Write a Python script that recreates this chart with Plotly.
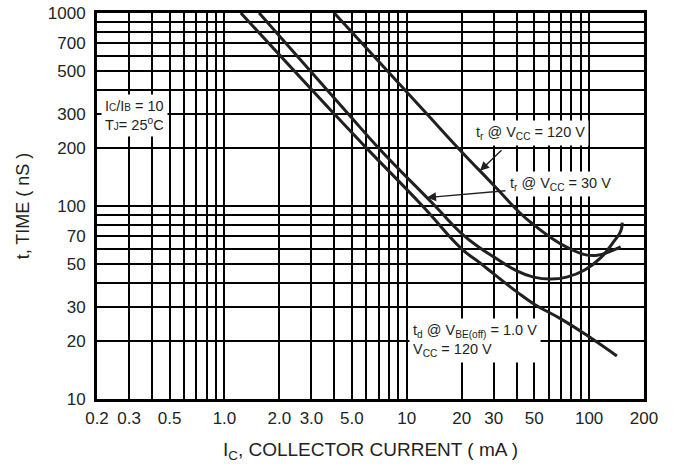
import numpy as np
import plotly.graph_objects as go

# ---- data (Ic in mA, t in ns) ----
td_ic = [1.23, 4.0, 6.0, 12.2, 20, 25, 30, 40, 50, 70, 100, 142]
td_t = [1000, 300, 200, 100, 60, 51, 44.5, 36, 31, 26, 21, 16.7]

tr30_ic = [1.55, 4.78, 7.0, 14.3, 20, 25, 30, 40.4, 49.6, 61.8, 75.3, 94.6, 116, 137, 149, 152]
tr30_t = [1000, 300, 200, 100, 72, 61, 54.5, 46, 42.8, 41.8, 42.8, 46.6, 54, 65.7, 74, 82]

tr120_ic = [4.0, 12.9, 19.1, 30, 41.8, 49.6, 61.8, 75.3, 94.6, 111, 131.5, 149]
tr120_t = [1000, 300, 200, 128, 92, 80, 68.5, 61.2, 56, 55.5, 58.4, 61.4]

x_tickvals = [0.2, 0.3, 0.5, 1, 2, 3, 5, 10, 20, 30, 50, 100, 200]
x_ticktext = ["0.2", "0.3", "0.5", "1.0", "2.0", "3.0", "5.0", "10", "20", "30", "50", "100", "200"]
x_minor = [0.4, 0.6, 0.7, 0.8, 0.9, 4, 6, 7, 8, 9, 40, 60, 70, 80, 90]
y_tickvals = [10, 20, 30, 50, 70, 100, 200, 300, 500, 700, 1000]
y_ticktext = ["10", "20", "30", "50", "70", "100", "200", "300", "500", "700", "1000"]
y_minor = [40, 60, 80, 90, 400, 600, 800, 900]

FONT = "Liberation Sans, Arial, sans-serif"
INK = "#231f20"

# body margin is removed in the page (post_script), so the figure fills the window;
# plot area at x 97..644, y 13..399
W, H = 680, 466
ML, MR, MT, MB = 97, 36, 13, 67
PW, PH = W - ML - MR, H - MT - MB
OX, OY = ML, MT


def px(xw):
    return (xw - OX) / PW


def py(yw):
    return (OY + PH - yw) / PH


fig = go.Figure()
for xs, ys in [(td_ic, td_t), (tr30_ic, tr30_t), (tr120_ic, tr120_t)]:
    fig.add_trace(go.Scatter(x=xs, y=ys, mode="lines",
                             line=dict(color=INK, width=3, shape="spline", smoothing=1.3),
                             hoverinfo="skip"))


def on_curve(xs, ys, x):
    return 10 ** np.interp(np.log10(x), np.log10(xs), np.log10(ys))


fig.update_layout(
    width=W, height=H,
    margin=dict(l=ML, r=MR, t=MT, b=MB),
    plot_bgcolor="white", paper_bgcolor="white",
    showlegend=False,
    font=dict(family=FONT, color=INK, size=17),
    xaxis=dict(type="log", range=[np.log10(0.2), np.log10(200)], automargin=False,
               tickmode="array", tickvals=x_tickvals, ticktext=x_ticktext,
               showgrid=True, gridcolor="black", gridwidth=2,
               minor=dict(tickmode="array", tickvals=x_minor, showgrid=True,
                          gridcolor="black", gridwidth=2, ticks=""),
               ticks="", showline=True, linecolor="black", linewidth=3, mirror=True,
               zeroline=False, tickfont=dict(family=FONT, size=17, color=INK), ticklabelstandoff=2,
               ticklabeloverflow="allow",
               title=dict(text="I<sub>C</sub>, COLLECTOR CURRENT ( mA )",
                          font=dict(family=FONT, size=19, color=INK), standoff=16)),
    yaxis=dict(type="log", range=[1, 3], automargin=False,
               tickmode="array", tickvals=y_tickvals, ticktext=y_ticktext,
               showgrid=True, gridcolor="black", gridwidth=2,
               minor=dict(tickmode="array", tickvals=y_minor, showgrid=True,
                          gridcolor="black", gridwidth=2, ticks=""),
               ticks="", showline=True, linecolor="black", linewidth=3, mirror=True,
               zeroline=False, tickfont=dict(family=FONT, size=17, color=INK), ticklabelstandoff=5,
               ticklabeloverflow="allow",
               title=dict(text="t, TIME ( nS )", font=dict(family=FONT, size=18, color=INK), standoff=14)),
)

sm = "font-size:10px"
ann_font = dict(family=FONT, size=14.5, color=INK)
# condition label
fig.add_annotation(xref="paper", yref="paper", x=px(101), y=py(94),
                   xanchor="left", yanchor="top",
                   text=f"I<span style='{sm}'>C</span>/I<span style='{sm}'>B</span> = 10<br>"
                        f"T<span style='{sm}'>J</span>= 25<sup>o</sup>C",
                   showarrow=False, align="left", bgcolor="white", borderpad=3, font=ann_font)
# tr @ 120 V label
fig.add_annotation(xref="paper", yref="paper", x=px(530), y=py(133),
                   xanchor="center", yanchor="middle",
                   text="t<sub>r</sub> @ V<sub>CC</sub> = 120 V",
                   showarrow=False, bgcolor="white", borderpad=3, font=ann_font)
# tr @ 30 V label
fig.add_annotation(xref="paper", yref="paper", x=px(560), y=py(184),
                   xanchor="center", yanchor="middle",
                   text="t<sub>r</sub> @ V<sub>CC</sub> = 30 V",
                   showarrow=False, bgcolor="white", borderpad=3, font=ann_font)
# td label
fig.add_annotation(xref="paper", yref="paper", x=px(409), y=py(318),
                   xanchor="left", yanchor="top",
                   text="t<sub>d</sub> @ V<sub>BE(off)</sub> = 1.0 V<br>V<sub>CC</sub> = 120 V",
                   showarrow=False, align="left", bgcolor="white", borderpad=3, font=ann_font)

# arrows
x_a120 = 25.2
fig.add_annotation(x=np.log10(x_a120), y=np.log10(on_curve(tr120_ic, tr120_t, x_a120)),
                   xref="x", yref="y", ax=23, ay=-22, text="", showarrow=True,
                   arrowhead=2, arrowsize=1.3, arrowwidth=1.4, arrowcolor=INK)
x_a30 = 12.9
fig.add_annotation(x=np.log10(x_a30), y=np.log10(on_curve(tr30_ic, tr30_t, x_a30)),
                   xref="x", yref="y", ax=80, ay=-7, text="", showarrow=True,
                   arrowhead=2, arrowsize=1.3, arrowwidth=1.4, arrowcolor=INK)

fig.write_html("out.html", config={"displayModeBar": False},
               post_script="document.body.style.margin='0px';document.body.style.overflow='hidden';")
